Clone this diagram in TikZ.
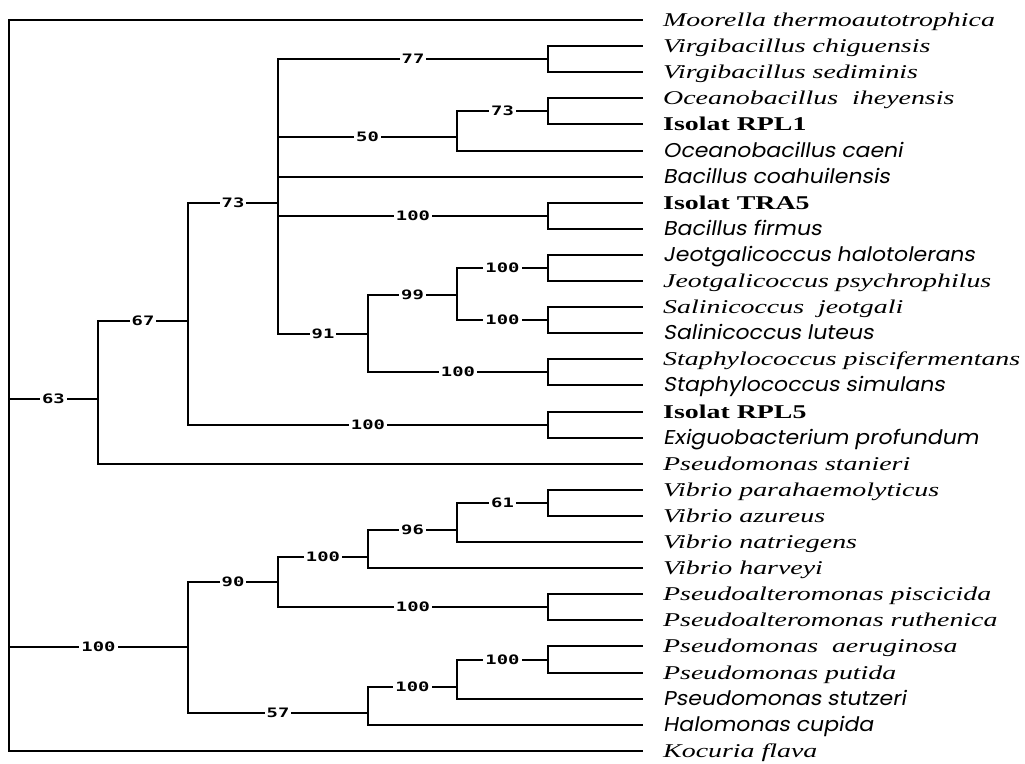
\documentclass[tikz,border=0pt]{standalone}
\usepackage{fontspec}
\newfontfamily\taxserif{Liberation Serif}[FakeStretch=1.43]
\newfontfamily\taxsans{Poppins}[FakeStretch=1.1,FakeSlant=0.18]
\newfontfamily\bootfont{DejaVu Sans Mono}[FakeStretch=1.45]
\newcommand{\taxit}{\taxserif\itshape}
\newcommand{\taxbf}{\taxserif\bfseries}
\newcommand{\taxsf}{\taxsans\fontsize{20}{22}\selectfont}
\tikzset{branch/.style={line width=2pt}}
\tikzset{boot/.style={pos=0.75,fill=white,inner xsep=2pt,inner ysep=1pt,font=\bootfont\bfseries\fontsize{13}{13}\selectfont}}
\tikzset{taxon/.style={anchor=base west,inner sep=0pt,font=\fontsize{19.5}{22}\selectfont}}

\begin{document}
\begin{tikzpicture}[x=1pt,y=-1pt]
  \useasboundingbox (0,0) rectangle (1025,763);
  % leaf tips
  \foreach \i in {1,...,29}
    \coordinate (t\i) at (643,{round(20+(\i-1)*26.1)});
  % inner nodes
  \coordinate (root)   at (9,520);
  \coordinate (cA)     at (98,399);
  \coordinate (cB)     at (188,321);
  \coordinate (cC)     at (278,203);
  \coordinate (virg)   at (548,59);
  \coordinate (ocean)  at (457,137);
  \coordinate (oceanA) at (548,111);
  \coordinate (bacf)   at (548,216);
  \coordinate (staphy) at (368,334);
  \coordinate (jeosal) at (457,295);
  \coordinate (jeot)   at (548,268);
  \coordinate (sali)   at (548,320);
  \coordinate (staph)  at (548,372);
  \coordinate (exig)   at (548,425);
  \coordinate (gamma)  at (188,647);
  \coordinate (vibpse) at (278,582);
  \coordinate (vib)    at (368,557);
  \coordinate (vibB)   at (457,530);
  \coordinate (vibC)   at (548,503);
  \coordinate (palt)   at (548,607);
  \coordinate (pseu)   at (368,713);
  \coordinate (pseuB)  at (457,687);
  \coordinate (pseuC)  at (548,660);
  % branches with bootstrap values
  \foreach \a/\b/\v in {root/cA/63,cA/cB/67,cB/cC/73,cC/virg/77,cC/ocean/50,
      ocean/oceanA/73,cC/bacf/100,cC/staphy/91,staphy/jeosal/99,jeosal/jeot/100,
      jeosal/sali/100,staphy/staph/100,cB/exig/100,root/gamma/100,gamma/vibpse/90,
      vibpse/vib/100,vib/vibB/96,vibB/vibC/61,vibpse/palt/100,gamma/pseu/57,
      pseu/pseuB/100,pseuB/pseuC/100}
    \draw[branch] (\a) |- node[boot] (b\b) {\v} (\b);
  % plain branches
  \foreach \a/\b in {root/t1,root/t29,cA/t18,virg/t2,virg/t3,oceanA/t4,oceanA/t5,
      ocean/t6,cC/t7,bacf/t8,bacf/t9,jeot/t10,jeot/t11,sali/t12,sali/t13,
      staph/t14,staph/t15,exig/t16,exig/t17,vibC/t19,vibC/t20,vibB/t21,vib/t22,
      palt/t23,palt/t24,pseuC/t25,pseuC/t26,pseuB/t27,pseu/t28}
    \draw[branch] (\a) |- (\b);
  % taxa
  \foreach \i/\fnt/\txt in {1/\taxit/Moorella thermoautotrophica,
      2/\taxit/Virgibacillus chiguensis,3/\taxit/Virgibacillus sediminis,
      4/\taxit/Oceanobacillus\ \ iheyensis,5/\taxbf/Isolat RPL1,
      6/\taxsf/Oceanobacillus caeni,7/\taxsf/Bacillus coahuilensis,
      8/\taxbf/Isolat TRA5,9/\taxsf/Bacillus firmus,
      10/\taxsf/Jeotgalicoccus halotolerans,11/\taxit/Jeotgalicoccus psychrophilus,
      12/\taxit/Salinicoccus\ \ jeotgali,13/\taxsf/Salinicoccus luteus,
      14/\taxit/Staphylococcus piscifermentans,15/\taxsf/Staphylococcus simulans,
      16/\taxbf/Isolat RPL5,17/\taxsf/Exiguobacterium profundum,
      18/\taxit/Pseudomonas stanieri,19/\taxit/Vibrio parahaemolyticus,
      20/\taxit/Vibrio azureus,21/\taxit/Vibrio natriegens,
      22/\taxit/Vibrio harveyi,23/\taxit/Pseudoalteromonas piscicida,
      24/\taxit/Pseudoalteromonas ruthenica,25/\taxit/Pseudomonas\ \ aeruginosa,
      26/\taxit/Pseudomonas putida,27/\taxsf/Pseudomonas stutzeri,
      28/\taxsf/Halomonas cupida,29/\taxit/Kocuria flava}
    \node[taxon] (l\i) at ([xshift=20pt,yshift=-6.5pt]t\i) {\fnt \txt};
\end{tikzpicture}
\end{document}
